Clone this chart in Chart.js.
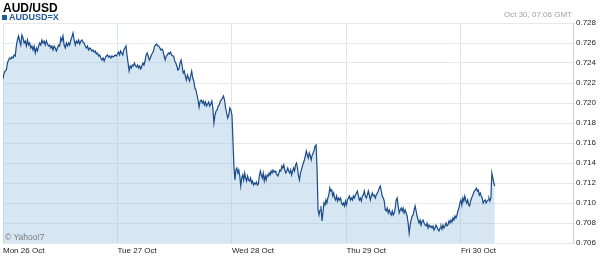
<!DOCTYPE html>
<html lang="en">
<head>
<meta charset="UTF-8">
<title>AUD/USD</title>
<script src="https://cdn.jsdelivr.net/npm/chart.js"></script>
<style>
    body { margin: 0; background: #fff; font-family: Arial, "Liberation Sans", sans-serif; }
    #wrap { position: relative; width: 600px; height: 263px; }
    #title { position: absolute; left: 3px; top: 1px; font-size: 12px; font-weight: bold; color: #000; }
    #legend { position: absolute; left: 2px; top: 12px; font-size: 9px; font-weight: bold; color: #1f5a99; }
    #legend span { display: inline-block; width: 5px; height: 5px; background: #1f5a99; margin-right: 2px; }
    #stamp { position: absolute; right: 28px; top: 10px; font-size: 8px; color: #a0a0a0; }
    #copy { position: absolute; left: 5px; top: 232px; font-size: 8.5px; color: #7a7a7a; }
</style>
</head>
<body>
<div id="wrap">
    <canvas id="chart" width="600" height="263"></canvas>
    <div id="title">AUD/USD</div>
    <div id="legend"><span></span>AUDUSD=X</div>
    <div id="stamp">Oct 30, 07:06 GMT</div>
    <div id="copy">© Yahoo!7</div>
</div>
<script>
    // AUD/USD quotes, one array per trading day
    const mon = [
        0.7224,0.7230,0.7232,0.7233,0.7240,0.7243,0.7245,0.7244,0.7246,0.7245,
        0.7248,0.7247,0.7257,0.7263,0.7267,0.7262,0.7258,0.7268,0.7265,0.7260,
        0.7262,0.7257,0.7263,0.7258,0.7260,0.7255,0.7257,0.7253,0.7257,0.7250,
        0.7255,0.7252,0.7257,0.7260,0.7258,0.7263,0.7260,0.7262,0.7258,0.7262,
        0.7259,0.7257,0.7258,0.7255,0.7257,0.7253,0.7257,0.7255,0.7252,0.7255,
        0.7258,0.7257,0.7265,0.7262,0.7267,0.7258,0.7255,0.7260,0.7257,0.7260,
        0.7258,0.7263,0.7266,0.7270,0.7263,0.7258,0.7262,0.7260,0.7263,0.7259,
        0.7262,0.7263,0.7261,0.7260,0.7257,0.7255,0.7257,0.7253,0.7255,0.7254,
        0.7252,0.7253,0.7251,0.7252,0.7249,0.7250,0.7247,0.7248,0.7245,0.7243,
        0.7245,0.7242,0.7245,0.7247,0.7248,0.7246,0.7247,0.7245,0.7247,0.7246,
        0.7247,0.7248,0.7247
    ];
    const tue = [
        0.7249,0.7251,0.7248,0.7252,0.7250,0.7248,0.7253,0.7255,0.7257,0.7248,
        0.7240,0.7232,0.7237,0.7235,0.7238,0.7237,0.7240,0.7237,0.7236,0.7238,
        0.7235,0.7237,0.7234,0.7237,0.7240,0.7238,0.7242,0.7248,0.7250,0.7247,
        0.7243,0.7245,0.7248,0.7250,0.7252,0.7257,0.7258,0.7259,0.7257,0.7257,
        0.7255,0.7253,0.7254,0.7252,0.7247,0.7243,0.7247,0.7248,0.7250,0.7249,
        0.7251,0.7248,0.7247,0.7247,0.7242,0.7240,0.7237,0.7233,0.7234,0.7240,
        0.7243,0.7237,0.7230,0.7232,0.7227,0.7223,0.7228,0.7225,0.7222,0.7227,
        0.7232,0.7225,0.7222,0.7215,0.7213,0.7208,0.7203,0.7196,0.7202,0.7203,
        0.7200,0.7202,0.7198,0.7201,0.7197,0.7199,0.7201,0.7197,0.7199,0.7202,
        0.7195,0.7180,0.7188,0.7192,0.7193,0.7197,0.7198,0.7202,0.7203,0.7205,
        0.7207,0.7203,0.7195,0.7190,0.7185,0.7188,0.7195,0.7193
    ];
    const wed = [
        0.7188,0.7163,0.7137,0.7123,0.7133,0.7135,0.7130,0.7133,0.7127,0.7117,
        0.7125,0.7128,0.7123,0.7130,0.7125,0.7122,0.7127,0.7123,0.7122,0.7125,
        0.7120,0.7122,0.7118,0.7120,0.7119,0.7121,0.7118,0.7119,0.7127,0.7132,
        0.7128,0.7125,0.7130,0.7122,0.7127,0.7123,0.7128,0.7127,0.7130,0.7128,
        0.7132,0.7130,0.7133,0.7131,0.7132,0.7130,0.7128,0.7127,0.7130,0.7133,
        0.7132,0.7137,0.7135,0.7138,0.7133,0.7130,0.7132,0.7135,0.7132,0.7130,
        0.7133,0.7128,0.7132,0.7135,0.7132,0.7138,0.7140,0.7135,0.7127,0.7123,
        0.7130,0.7133,0.7137,0.7140,0.7143,0.7147,0.7152,0.7148,0.7145,0.7150,
        0.7147,0.7143,0.7148,0.7150,0.7153,0.7157,0.7158,0.7133,0.7093,0.7088,
        0.7093,0.7097,0.7082,0.7090,0.7100,0.7098,0.7103,0.7100,0.7105,0.7108,
        0.7115,0.7112,0.7113,0.7107,0.7110,0.7105,0.7103,0.7107,0.7102,0.7105,
        0.7103,0.7105,0.7100,0.7098,0.7100,0.7097,0.7102
    ];
    const thu = [
        0.7098,0.7103,0.7105,0.7107,0.7103,0.7105,0.7103,0.7107,0.7105,0.7108,
        0.7110,0.7112,0.7107,0.7103,0.7105,0.7102,0.7107,0.7108,0.7112,0.7107,
        0.7105,0.7108,0.7112,0.7108,0.7103,0.7107,0.7110,0.7107,0.7108,0.7105,
        0.7108,0.7110,0.7112,0.7115,0.7117,0.7112,0.7107,0.7105,0.7102,0.7093,
        0.7092,0.7095,0.7090,0.7093,0.7090,0.7088,0.7092,0.7088,0.7090,0.7095,
        0.7103,0.7105,0.7097,0.7090,0.7093,0.7095,0.7092,0.7095,0.7090,0.7093,
        0.7090,0.7087,0.7080,0.7070,0.7078,0.7083,0.7087,0.7088,0.7093,0.7097,
        0.7092,0.7087,0.7083,0.7080,0.7083,0.7078,0.7082,0.7083,0.7080,0.7078,
        0.7077,0.7080,0.7075,0.7078,0.7076,0.7077,0.7075,0.7077,0.7073,0.7075,
        0.7078,0.7076,0.7073,0.7072,0.7075,0.7077,0.7074,0.7078,0.7075,0.7077,
        0.7080,0.7077,0.7078,0.7082,0.7080,0.7083,0.7081,0.7085,0.7083,0.7087,
        0.7085,0.7088,0.7092,0.7095,0.7100
    ];
    const fri = [
        0.7103,0.7098,0.7105,0.7102,0.7107,0.7103,0.7100,0.7103,0.7098,0.7097,
        0.7102,0.7105,0.7107,0.7110,0.7112,0.7113,0.7115,0.7112,0.7113,0.7108,
        0.7110,0.7107,0.7105,0.7100,0.7102,0.7103,0.7100,0.7102,0.7103,0.7105,
        0.7102,0.7105,0.7130,0.7125,0.7120,0.7117
    ];

    const dayStarts = [0, 24, 48, 72, 96];   // hours since Mon 00:00
    const dayLabels = ['Mon 26 Oct', 'Tue 27 Oct', 'Wed 28 Oct', 'Thu 29 Oct', 'Fri 30 Oct'];
    const yTicks = [0.706, 0.708, 0.710, 0.712, 0.714, 0.716, 0.718, 0.720, 0.722, 0.724, 0.726, 0.728];
    const lastQuoteHour = 7.1;  // Fri 07:06 GMT

    // spread each day's quotes over its hours
    const days = [mon, tue, wed, thu, fri];
    const points = [];
    days.forEach((vals, d) => {
        const step = d < 4 ? 24 / vals.length : lastQuoteHour / (vals.length - 1);
        vals.forEach((v, i) => points.push({ x: dayStarts[d] + i * step, y: v }));
    });

    new Chart(document.getElementById('chart'), {
        type: 'line',
        data: {
            datasets: [{
                data: points,
                borderColor: '#1a4b88',
                borderWidth: 1.2,
                backgroundColor: 'rgba(153,193,223,0.4)',
                fill: 'start',
                pointRadius: 0,
                tension: 0
            }]
        },
        options: {
            responsive: false,
            animation: false,
            layout: { padding: { left: 2, top: 23, right: 0, bottom: 0 } },
            plugins: { legend: { display: false }, tooltip: { enabled: false } },
            scales: {
                x: {
                    type: 'linear',
                    min: 0,
                    max: 119.5,
                    afterBuildTicks: s => { s.ticks = dayStarts.map(v => ({ value: v })); },
                    afterFit: s => { s.height = 20; },
                    ticks: {
                        align: 'start',
                        autoSkip: false,
                        maxRotation: 0,
                        padding: 3,
                        color: '#222',
                        font: { family: 'Arial', size: 8 },
                        callback: v => dayLabels[dayStarts.indexOf(v)]
                    },
                    grid: { color: '#dde6ef', drawTicks: false },
                    border: { display: false }
                },
                y: {
                    position: 'right',
                    min: 0.706,
                    max: 0.728,
                    afterBuildTicks: s => { s.ticks = yTicks.map(v => ({ value: v })); },
                    afterFit: s => { s.width = 27; },
                    ticks: {
                        padding: 1,
                        color: '#222',
                        font: { family: 'Arial', size: 8 },
                        callback: v => v.toFixed(3)
                    },
                    grid: { color: '#e8e8e8', tickLength: 2 },
                    border: { color: '#d0d0d0' }
                }
            }
        }
    });
</script>
</body>
</html>
